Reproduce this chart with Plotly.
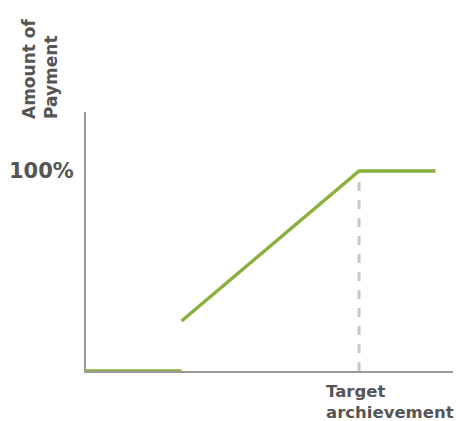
import plotly.graph_objects as go

# data (x: % of target achievement, y: % of payment)
low_x = [0, 35]
low_y = [0, 0]
main_x = [35, 100, 128]
main_y = [25, 100, 100]
target_x = [100, 100]
target_y = [0, 100]
y_tick_vals = [100]
y_tick_text = ["<b>100%</b>"]

GREEN = "#8bb03e"
TEXT = "#555555"
FONT = "DejaVu Sans"

fig = go.Figure()
fig.add_trace(go.Scatter(x=target_x, y=target_y, mode="lines",
                         line=dict(color="#c8c8c8", width=3, dash="dash"),
                         hoverinfo="skip", showlegend=False))
fig.add_trace(go.Scatter(x=low_x, y=low_y, mode="lines",
                         line=dict(color=GREEN, width=3.5),
                         cliponaxis=False, showlegend=False))
fig.add_trace(go.Scatter(x=main_x, y=main_y, mode="lines",
                         line=dict(color=GREEN, width=3.5),
                         cliponaxis=False, showlegend=False))

fig.update_layout(
    width=460, height=421,
    margin=dict(l=86, r=7, t=112, b=50),
    plot_bgcolor="white", paper_bgcolor="white",
    xaxis=dict(range=[0, 134.4], showgrid=False, zeroline=False,
               showline=True, linecolor="#9a9a9a", linewidth=2,
               showticklabels=False, ticks=""),
    yaxis=dict(range=[0, 129.5], showgrid=False, zeroline=False,
               showline=True, linecolor="#9a9a9a", linewidth=2,
               tickvals=y_tick_vals, ticktext=y_tick_text, ticks="",
               ticklabelstandoff=6,
               tickfont=dict(family=FONT, size=21, color=TEXT)),
    annotations=[
        dict(text="<b>Amount of<br>Payment</b>", xref="paper", yref="paper",
             x=-86/367, xshift=18, y=1, yshift=-8, xanchor="left", yanchor="bottom",
             textangle=-90, align="left", showarrow=False, borderpad=0,
             font=dict(family=FONT, size=17, color=TEXT)),
        dict(text="<b>Target<br>archievement</b>", xref="x", yref="paper",
             x=100, xshift=-34, y=0, yshift=-10, xanchor="left", yanchor="top",
             align="left", showarrow=False, borderpad=0,
             font=dict(family=FONT, size=16.5, color=TEXT)),
    ],
)

fig.write_html("out.html")
